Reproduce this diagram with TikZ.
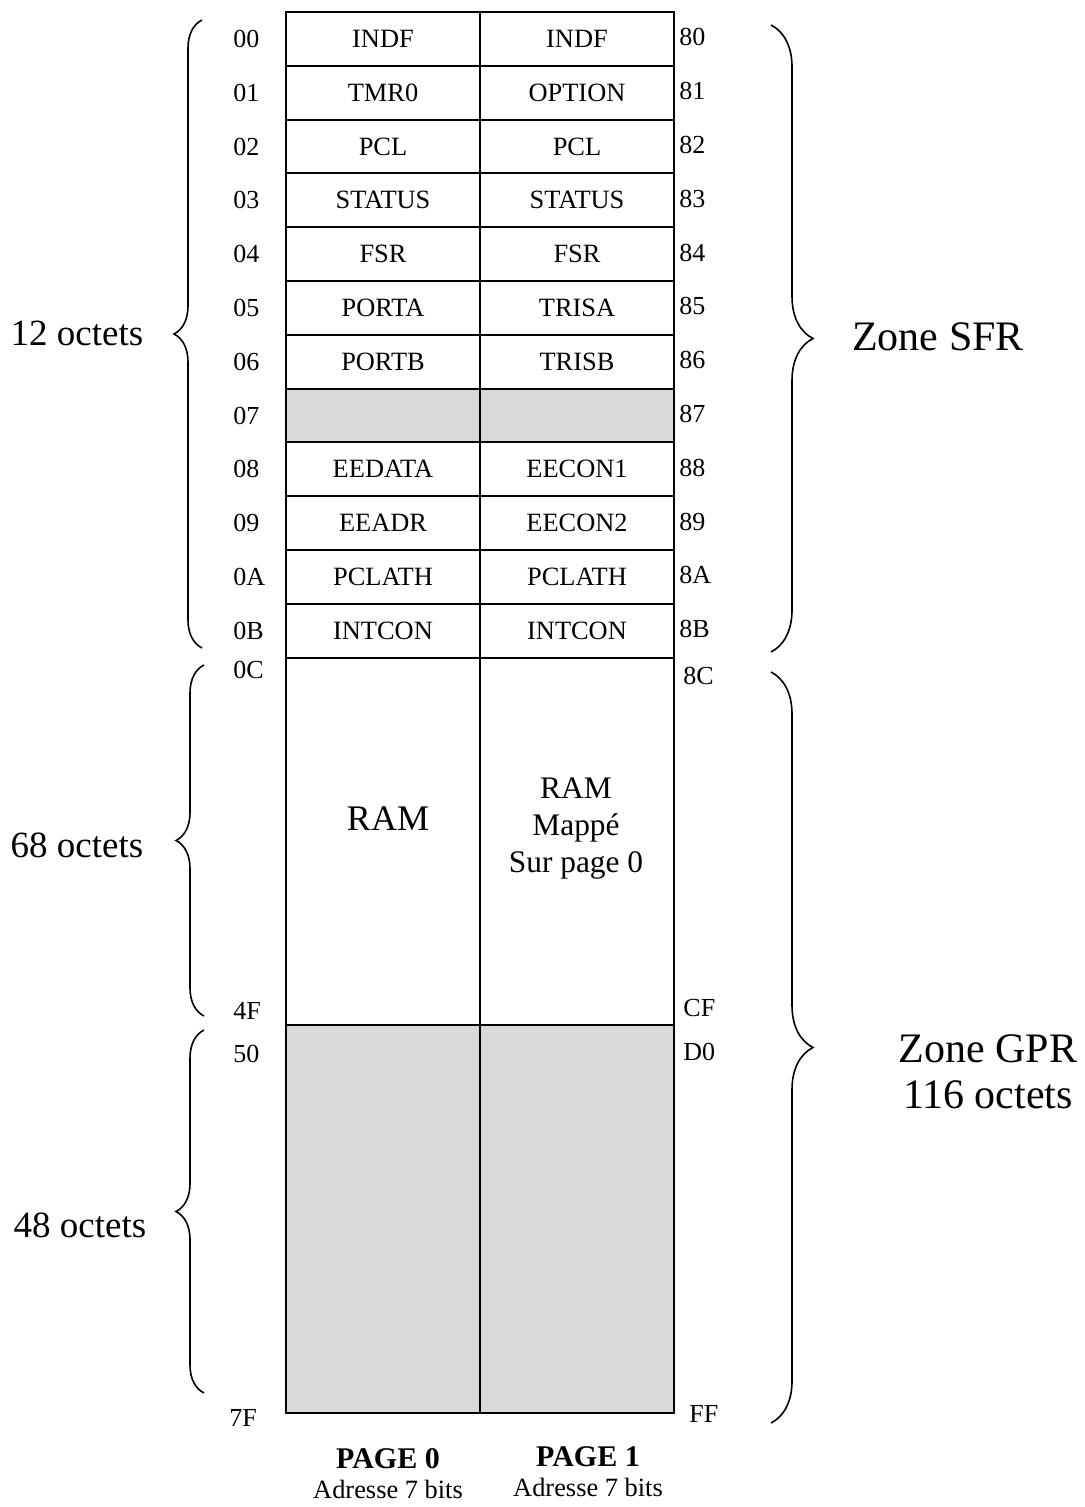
\documentclass[tikz,border=0pt]{standalone}
\usepackage{fontspec}
\setmainfont{Liberation Serif}
\usepackage{tikz}
\usetikzlibrary{positioning, decorations.pathreplacing}
\definecolor{cellgrey}{RGB}{217,217,217}

\begin{document}
\begin{tikzpicture}[x=0.5pt, y=-0.5pt,
  cell/.style={draw, line width=1pt, minimum width=97pt, minimum height=26.9pt, inner sep=0pt, font=\fontsize{13.2}{15}\selectfont},
  zone/.style={draw, line width=1pt, minimum width=97pt, inner sep=0pt},
  addr/.style={anchor=west, inner sep=0pt, font=\fontsize{13}{15}\selectfont},
  size/.style={inner sep=0pt, font=\fontsize{18.5}{22}\selectfont},
  zonetxt/.style={inner sep=0pt, align=center, font=\fontsize{21}{23}\selectfont},
  brcl/.style={decorate, decoration={brace, amplitude=14pt}, line width=0.8pt},
  brcr/.style={decorate, decoration={brace, amplitude=21pt}, line width=0.8pt}
]
\useasboundingbox (0,0) rectangle (1084,1507);

% ----- Page 0, registres SFR -----
\node[cell] (a00) at (383, 38.9)  {INDF};
\node[cell] (a01) at (383, 92.7)  {TMR0};
\node[cell] (a02) at (383, 146.5) {PCL};
\node[cell] (a03) at (383, 200.3) {STATUS};
\node[cell] (a04) at (383, 254.1) {FSR};
\node[cell] (a05) at (383, 307.9) {PORTA};
\node[cell] (a06) at (383, 361.7) {PORTB};
\node[cell, fill=cellgrey] (a07) at (383, 415.5) {};
\node[cell] (a08) at (383, 469.3) {EEDATA};
\node[cell] (a09) at (383, 523.1) {EEADR};
\node[cell] (a0A) at (383, 576.9) {PCLATH};
\node[cell] (a0B) at (383, 630.7) {INTCON};

% ----- Page 1, registres SFR -----
\node[cell] (a80) at (577, 38.9)  {INDF};
\node[cell] (a81) at (577, 92.7)  {OPTION};
\node[cell] (a82) at (577, 146.5) {PCL};
\node[cell] (a83) at (577, 200.3) {STATUS};
\node[cell] (a84) at (577, 254.1) {FSR};
\node[cell] (a85) at (577, 307.9) {TRISA};
\node[cell] (a86) at (577, 361.7) {TRISB};
\node[cell, fill=cellgrey] (a87) at (577, 415.5) {};
\node[cell] (a88) at (577, 469.3) {EECON1};
\node[cell] (a89) at (577, 523.1) {EECON2};
\node[cell] (a8A) at (577, 576.9) {PCLATH};
\node[cell] (a8B) at (577, 630.7) {INTCON};

% ----- Zone GPR -----
\node[zone, minimum height=183.5pt] (ram0) at (383, 841.5) {};
\node[zone, minimum height=183.5pt] (ram1) at (577, 841.5) {};
\node[zone, minimum height=194pt, fill=cellgrey] (free0) at (383, 1219) {};
\node[zone, minimum height=194pt, fill=cellgrey] (free1) at (577, 1219) {};
\node[inner sep=0pt, font=\fontsize{18}{21}\selectfont] (ramtxt0) at (388, 819) {RAM};
\node[inner sep=0pt, align=center, font=\fontsize{15.7}{18.5}\selectfont] (ramtxt1) at (576, 829) {RAM\\Mappé\\Sur page 0};

% ----- Adresses page 0 -----
\node[addr] (n00) at (233, 38.9)  {00};
\node[addr] (n01) at (233, 92.7)  {01};
\node[addr] (n02) at (233, 146.5) {02};
\node[addr] (n03) at (233, 200.3) {03};
\node[addr] (n04) at (233, 254.1) {04};
\node[addr] (n05) at (233, 307.9) {05};
\node[addr] (n06) at (233, 361.7) {06};
\node[addr] (n07) at (233, 415.5) {07};
\node[addr] (n08) at (233, 469.3) {08};
\node[addr] (n09) at (233, 523.1) {09};
\node[addr] (n0A) at (233, 576.9) {0A};
\node[addr] (n0B) at (233, 630.7) {0B};
\node[addr] (n0C) at (233, 670)   {0C};
\node[addr] (n4F) at (233, 1011)  {4F};
\node[addr] (n50) at (233, 1054)  {50};
\node[addr] (n7F) at (229, 1418)  {7F};

% ----- Adresses page 1 -----
\node[addr] (n80) at (679, 37)    {80};
\node[addr] (n81) at (679, 91)    {81};
\node[addr] (n82) at (679, 145)   {82};
\node[addr] (n83) at (679, 199)   {83};
\node[addr] (n84) at (679, 253)   {84};
\node[addr] (n85) at (679, 306)   {85};
\node[addr] (n86) at (679, 360)   {86};
\node[addr] (n87) at (679, 414)   {87};
\node[addr] (n88) at (679, 468)   {88};
\node[addr] (n89) at (679, 522)   {89};
\node[addr] (n8A) at (679, 575)   {8A};
\node[addr] (n8B) at (679, 629)   {8B};
\node[addr] (n8C) at (683, 676)   {8C};
\node[addr] (nCF) at (683, 1008)  {CF};
\node[addr] (nD0) at (683, 1052)  {D0};
\node[addr] (nFF) at (689, 1414)  {FF};

% ----- Accolades -----
\coordinate (sfrlt) at (202, 20);   \coordinate (sfrlb) at (202, 648);
\coordinate (ramlt) at (204, 665);  \coordinate (ramlb) at (204, 1016);
\coordinate (frelt) at (204, 1030); \coordinate (frelb) at (204, 1393);
\coordinate (sfrrt) at (771, 25);   \coordinate (sfrrb) at (771, 652);
\coordinate (gprrt) at (771, 672);  \coordinate (gprrb) at (771, 1423);
\draw[brcl] (sfrlb) -- (sfrlt);
\draw[brcl] (ramlb) -- (ramlt);
\draw[brcl] (frelb) -- (frelt);
\draw[brcr] (sfrrt) -- (sfrrb);
\draw[brcr] (gprrt) -- (gprrb);

% ----- Tailles -----
\node[size] (sz12) at (77, 333)  {12 octets};
\node[size] (sz68) at (77, 845)  {68 octets};
\node[size] (sz48) at (80, 1225) {48 octets};
\node[zonetxt] (sfr) at (938, 337)  {Zone SFR};
\node[zonetxt] (gpr) at (988, 1072) {Zone GPR\\116 octets};

% ----- Pages -----
\node[inner sep=0pt, font=\bfseries\fontsize{15}{17}\selectfont] (page0) at (388, 1459) {PAGE 0};
\node[inner sep=0pt, font=\fontsize{13.2}{15}\selectfont, below=5pt of page0] (bits0) {Adresse 7 bits};
\node[inner sep=0pt, font=\bfseries\fontsize{15}{17}\selectfont] (page1) at (588, 1457) {PAGE 1};
\node[inner sep=0pt, font=\fontsize{13.2}{15}\selectfont, below=5pt of page1] (bits1) {Adresse 7 bits};

\end{tikzpicture}
\end{document}
